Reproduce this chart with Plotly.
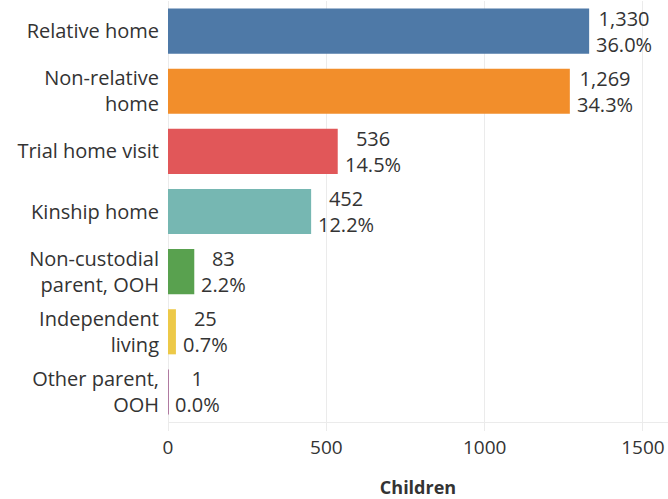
import plotly.graph_objects as go

categories = ["Relative home", "Non-relative<br>home", "Trial home visit", "Kinship home",
              "Non-custodial<br>parent, OOH", "Independent<br>living", "Other parent,<br>OOH"]
children = [1330, 1269, 536, 452, 83, 25, 1]
percents = ["36.0%", "34.3%", "14.5%", "12.2%", "2.2%", "0.7%", "0.0%"]
colors = ["#4e79a7", "#f28e2b", "#e15759", "#76b7b2", "#59a14f", "#edc948", "#b07aa1"]
x_ticks = [0, 500, 1000, 1500]

fig = go.Figure(go.Bar(
    x=children, y=categories, orientation="h",
    marker=dict(color=colors, line=dict(width=0)),
    width=0.75,
))

# Value + share labels just past the end of each bar
for cat, val, pct in zip(categories, children, percents):
    fig.add_annotation(
        x=val, y=cat, text=f"{val:,}<br>{pct}",
        xanchor="left", yanchor="middle", align="center",
        xshift=5, showarrow=False,
        font=dict(size=20, color="#333333"),
    )

fig.update_layout(
    width=668, height=499,
    margin=dict(l=168, r=0, t=1, b=77),
    plot_bgcolor="white", paper_bgcolor="white",
    font=dict(family="Open Sans", size=20, color="#333333"),
    showlegend=False,
    xaxis=dict(
        range=[0, 1579], tickvals=x_ticks, ticktext=[str(t) for t in x_ticks],
        showgrid=True, gridcolor="#ebebeb", gridwidth=1,
        zeroline=True, zerolinecolor="#ebebeb", zerolinewidth=1,
        showline=True, linecolor="#ebebeb", linewidth=1,
        ticks="outside", ticklen=8, tickcolor="#ebebeb",
        tickfont=dict(size=19),
        title=dict(text="<b>Children</b>", font=dict(size=18), standoff=22),
    ),
    yaxis=dict(
        autorange="reversed", showgrid=False, ticks="", ticklabelstandoff=8,
        tickfont=dict(size=20),
    ),
)

fig.write_html("out.html")
